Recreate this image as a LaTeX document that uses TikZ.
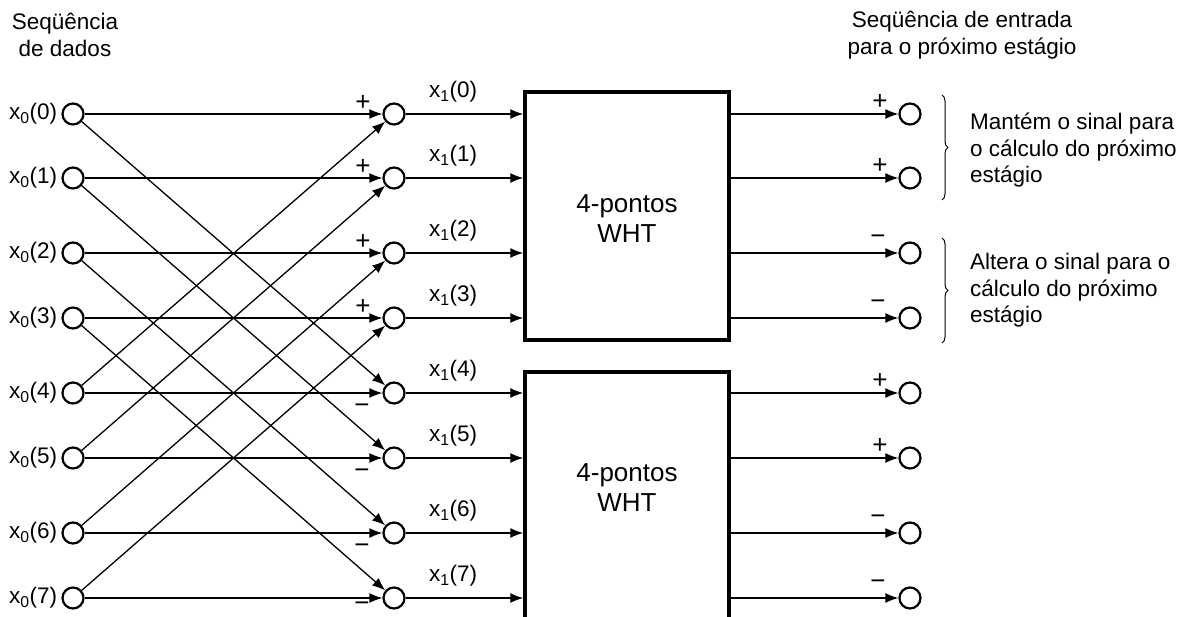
\documentclass[tikz,border=0pt]{standalone}
\usepackage{fontspec}
\setmainfont{Liberation Sans}
\usetikzlibrary{arrows.meta,positioning,decorations.pathreplacing}

\tikzset{
  dot/.style={circle, draw, line width=2.2pt, minimum size=21pt, inner sep=0pt},
  sig/.style={line width=1.3pt, -{Latex[length=13pt,width=10pt]}},
  whtbox/.style={draw, line width=3.5pt, minimum width=204pt, inner sep=0pt},
  sign/.style={inner sep=0pt, font=\fontsize{26}{26}\selectfont},
  curly/.style={decorate, decoration={brace, amplitude=6pt}, line width=1pt},
  note/.style={anchor=north west, align=left, inner sep=0pt},
}
\newcommand{\xin}[1]{x\textsubscript{0}(#1)}
\newcommand{\xmid}[1]{x\textsubscript{1}(#1)}

\begin{document}
\begin{tikzpicture}[x=1pt, y=-1pt, font=\fontsize{22.5}{26.5}\selectfont]
  \useasboundingbox (0,0) rectangle (1179,617);
  \clip (0,0) rectangle (1179,617);

  % Headers
  \node[align=center, anchor=north, inner sep=0pt] (hin) at (65,13) {Seqüência\\de dados};
  \node[align=center, anchor=north, inner sep=0pt] (hout) at (962,11) {Seqüência de entrada\\para o próximo estágio};

  % Rows of nodes
  \foreach \i/\y in {0/114,1/178,2/253,3/318,4/393,5/458,6/533,7/598} {
    \node[dot] (in\i) at (73,\y) {};
    \node[dot] (mid\i) at (394,\y) {};
    \node[dot] (out\i) at (910,\y) {};
    \node[left=4pt of in\i, inner sep=0pt] (lin\i) {\xin{\i}};
    \node (lmid\i) at (453,\y-22) {\xmid{\i}};
  }

  % 4-point WHT blocks
  \node[whtbox, minimum height=248pt] (wht1) at (627,216) {};
  \node[whtbox, minimum height=280pt] (wht2) at (627,512) {};
  \node[align=center, font=\fontsize{26}{30}\selectfont] (t1) at (627,219) {4-pontos\\WHT};
  \node[align=center, font=\fontsize{26}{30}\selectfont] (t2) at (627,488) {4-pontos\\WHT};

  % Butterfly
  \foreach \i in {0,...,7}
    \draw[sig] (in\i) -- (mid\i);
  \foreach \i in {0,...,3} {
    \pgfmathtruncatemacro\j{\i+4}
    \draw[sig] (in\i) -- (mid\j);
    \draw[sig] (in\j) -- (mid\i);
  }

  % Into and out of the blocks
  \foreach \i in {0,...,3} {
    \draw[sig] (mid\i) -- (mid\i -| wht1.west);
    \draw[sig] (mid\i -| wht1.east) -- (out\i);
  }
  \foreach \i in {4,...,7} {
    \draw[sig] (mid\i) -- (mid\i -| wht2.west);
    \draw[sig] (mid\i -| wht2.east) -- (out\i);
  }

  % Signs
  \foreach \y in {114,178,253,318}
    \node[sign] at (363,\y-11) {+};
  \foreach \y in {393,458,533}
    \node[sign] at (362,\y+16) {−};
  \node[sign] at (362,607) {−};
  \foreach \y in {114,178,393,458}
    \node[sign] at (880,\y-12) {+};
  \foreach \y in {253,318,533,598}
    \node[sign] at (878,\y-13) {−};

  % Braces and notes
  \draw[curly] (942,95) -- (942,200);
  \draw[curly] (942,238) -- (942,343);
  \node[note] (keep) at (970,113) {Mantém o sinal para\\o cálculo do próximo\\estágio};
  \node[note] (flip) at (970,253) {Altera o sinal para o\\cálculo do próximo\\estágio};
\end{tikzpicture}
\end{document}
